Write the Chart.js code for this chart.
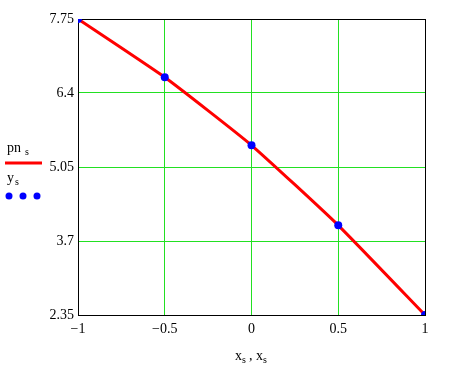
<!DOCTYPE html>
<html><head><meta charset="utf-8">
<script src="https://cdn.jsdelivr.net/npm/chart.js@4"></script>
<style>html,body{margin:0;padding:0;background:#fff}#wrap{width:454px;height:367px}</style>
</head><body><div id="wrap"><canvas id="c" width="454" height="367"></canvas></div>
<script>
const xNodes = [-1, -0.5, 0, 0.5, 1];
const pnValues = [7.75, 6.686, 5.446, 3.986, 2.35];
const yValues = [7.75, 6.686, 5.446, 3.986, 2.35];
const xTicks = [-1, -0.5, 0, 0.5, 1];
const xTickLabels = ["\u22121", "\u22120.5", "0", "0.5", "1"];
const yTicks = [2.35, 3.7, 5.05, 6.4, 7.75];
const yTickLabels = ["2.35", "3.7", "5.05", "6.4", "7.75"];

const FONT = 'Liberation Serif';

const extras = {
  id: 'extras',
  beforeDatasetsDraw(chart) {
    const {ctx, chartArea: a} = chart;
    ctx.save();
    ctx.strokeStyle = '#000';
    ctx.lineWidth = 1;
    ctx.strokeRect(Math.round(a.left) + 0.5, Math.round(a.top) + 0.5, Math.round(a.right - a.left), Math.round(a.bottom - a.top));
    ctx.restore();
  },
  afterDraw(chart) {
    const ctx = chart.ctx;
    ctx.save();
    ctx.fillStyle = '#000';
    ctx.textBaseline = 'alphabetic';
    ctx.textAlign = 'left';
    ctx.font = '14px "' + FONT + '"';
    ctx.fillText('pn', 7, 152);
    ctx.font = '10px "' + FONT + '"';
    ctx.fillText('s', 25, 155);
    ctx.strokeStyle = '#ff0000';
    ctx.lineWidth = 3;
    ctx.beginPath(); ctx.moveTo(5, 163); ctx.lineTo(42, 163); ctx.stroke();
    ctx.font = '14px "' + FONT + '"';
    ctx.fillText('y', 7, 182);
    ctx.font = '10px "' + FONT + '"';
    ctx.fillText('s', 15, 185);
    ctx.fillStyle = '#0000ff';
    [9, 23, 37].forEach(x => { ctx.beginPath(); ctx.arc(x, 196, 3.5, 0, Math.PI * 2); ctx.fill(); });
    ctx.fillStyle = '#000';
    ctx.font = '14px "' + FONT + '"';
    ctx.fillText('x', 235, 360);
    ctx.font = '10px "' + FONT + '"';
    ctx.fillText('s', 242, 363);
    ctx.font = '14px "' + FONT + '"';
    ctx.fillText(',', 249, 360);
    ctx.fillText('x', 256, 360);
    ctx.font = '10px "' + FONT + '"';
    ctx.fillText('s', 263, 363);
    ctx.restore();
  }
};

new Chart(document.getElementById('c'), {
  type: 'scatter',
  data: {
    datasets: [
      {
        label: 'y_s',
        data: xNodes.map((x, i) => ({x: x, y: yValues[i]})),
        showLine: false,
        pointRadius: 4,
        pointBackgroundColor: '#0000ff',
        pointBorderColor: '#0000ff',
        pointBorderWidth: 0,
        clip: 0
      },
      {
        label: 'pn_s',
        data: xNodes.map((x, i) => ({x: x, y: pnValues[i]})),
        showLine: true,
        borderColor: '#ff0000',
        borderWidth: 3,
        pointRadius: 0,
        tension: 0.15,
        clip: 0
      }
    ]
  },
  options: {
    responsive: false,
    animation: false,
    devicePixelRatio: 1,
    layout: {padding: {left: 0, top: 19, right: 29, bottom: 0}},
    plugins: {legend: {display: false}, tooltip: {enabled: false}},
    scales: {
      x: {
        type: 'linear', min: -1, max: 1,
        afterBuildTicks: s => { s.ticks = xTicks.map(v => ({value: v})); },
        afterFit: s => { s.height = 52; },
        grid: {color: '#22e022', lineWidth: 1, drawTicks: false},
        border: {display: false},
        ticks: {
          padding: 6, maxRotation: 0, autoSkip: false,
          color: '#000', font: {family: FONT, size: 14},
          callback: (v, i) => xTickLabels[i]
        }
      },
      y: {
        type: 'linear', min: 2.35, max: 7.75,
        afterBuildTicks: s => { s.ticks = yTicks.map(v => ({value: v})); },
        afterFit: s => { s.width = 78; },
        grid: {color: '#22e022', lineWidth: 1, drawTicks: false},
        border: {display: false},
        ticks: {
          padding: 4, autoSkip: false,
          color: '#000', font: {family: FONT, size: 14},
          callback: (v, i) => yTickLabels[i]
        }
      }
    }
  },
  plugins: [extras]
});
</script>
</body></html>
